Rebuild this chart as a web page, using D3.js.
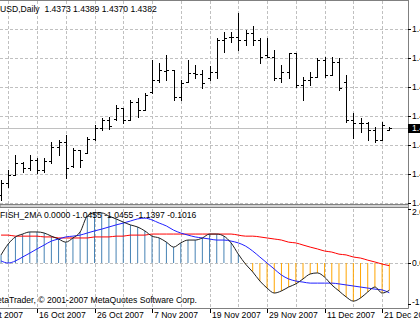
<!DOCTYPE html>
<html>
<head>
<meta charset="utf-8">
<script src="https://cdn.jsdelivr.net/npm/d3@7"></script>
<style>
  body { margin: 0; background: #fff; overflow: hidden; }
  svg { display: block; font-family: "Liberation Sans", Arial, sans-serif; }
</style>
</head>
<body>
<svg id="chart" width="420" height="323"></svg>
<script>
// EURUSD daily, 9 Oct 2007 .. 24 Dec 2007
const dates = [
  "2007-10-09","2007-10-10","2007-10-11","2007-10-12","2007-10-15","2007-10-16","2007-10-17","2007-10-18","2007-10-19","2007-10-22",
  "2007-10-23","2007-10-24","2007-10-25","2007-10-26","2007-10-29","2007-10-30","2007-10-31","2007-11-01","2007-11-02","2007-11-05",
  "2007-11-06","2007-11-07","2007-11-08","2007-11-09","2007-11-12","2007-11-13","2007-11-14","2007-11-15","2007-11-16","2007-11-19",
  "2007-11-20","2007-11-21","2007-11-22","2007-11-23","2007-11-26","2007-11-27","2007-11-28","2007-11-29","2007-11-30","2007-12-03",
  "2007-12-04","2007-12-05","2007-12-06","2007-12-07","2007-12-10","2007-12-11","2007-12-12","2007-12-13","2007-12-14","2007-12-17",
  "2007-12-18","2007-12-19","2007-12-20","2007-12-21","2007-12-24"
];

const opens = [
  1.4047,1.4107,1.4147,1.4207,1.4182,1.4222,1.4172,1.4217,1.4287,1.4312,
  1.4192,1.4272,1.4257,1.4327,1.4382,1.4422,1.4427,1.4482,1.4422,1.4512,
  1.4472,1.4562,1.4622,1.4667,1.4672,1.4537,1.4612,1.4657,1.4652,1.4632,
  1.4662,1.4822,1.4837,1.4837,1.4822,1.4857,1.4822,1.4747,1.4737,1.4632,
  1.4662,1.4757,1.4597,1.4622,1.4637,1.4722,1.4647,1.4712,1.4612,1.4422,
  1.4407,1.4407,1.4372,1.4322,1.4373
];
const highs = [
  1.4122,1.4172,1.4247,1.4212,1.4247,1.4232,1.4232,1.4312,1.4322,1.4347,
  1.4282,1.4272,1.4337,1.4397,1.4432,1.4437,1.4497,1.4482,1.4522,1.4532,
  1.4557,1.4722,1.4707,1.4747,1.4672,1.4622,1.4722,1.4697,1.4672,1.4692,
  1.4832,1.4862,1.4862,1.4957,1.4872,1.4892,1.4832,1.4832,1.4772,1.4697,
  1.4757,1.4757,1.4637,1.4662,1.4732,1.4737,1.4737,1.4732,1.4647,1.4457,
  1.4432,1.4412,1.4387,1.4412,1.4389
];
const lows = [
  1.4022,1.4087,1.4147,1.4162,1.4172,1.4157,1.4162,1.4207,1.4247,1.4132,
  1.4187,1.4187,1.4257,1.4322,1.4372,1.4377,1.4422,1.4407,1.4422,1.4437,
  1.4472,1.4557,1.4612,1.4622,1.4522,1.4522,1.4612,1.4632,1.4582,1.4622,
  1.4632,1.4762,1.4812,1.4772,1.4797,1.4797,1.4707,1.4737,1.4622,1.4612,
  1.4632,1.4587,1.4522,1.4597,1.4637,1.4637,1.4647,1.4572,1.4412,1.4332,
  1.4362,1.4322,1.4312,1.4322,1.4370
];
const closes = [
  1.4107,1.4147,1.4207,1.4182,1.4222,1.4172,1.4217,1.4287,1.4312,1.4182,
  1.4272,1.4222,1.4327,1.4382,1.4422,1.4392,1.4482,1.4422,1.4512,1.4472,
  1.4547,1.4622,1.4672,1.4672,1.4537,1.4607,1.4657,1.4652,1.4607,1.4662,
  1.4822,1.4832,1.4837,1.4822,1.4857,1.4822,1.4737,1.4737,1.4632,1.4662,
  1.4757,1.4597,1.4622,1.4637,1.4722,1.4647,1.4712,1.4582,1.4422,1.4407,
  1.4407,1.4372,1.4322,1.4397,1.4382
];

// FISH_2MA buffers: fisher (histogram + black line), MA1 (blue), MA2 (red)
const fisher = [
  0.31,0.73,1.00,1.11,1.19,1.19,1.15,1.03,0.92,0.80,
  0.96,1.19,1.80,1.92,1.92,1.80,1.69,1.57,1.46,1.38,
  1.23,1.03,0.96,0.80,0.61,0.77,0.88,0.88,0.96,1.11,
  1.11,1.03,0.77,0.34,-0.04,-0.34,-0.69,-0.96,-1.15,-1.07,
  -0.92,-0.80,-0.61,-0.42,-0.38,-0.54,-0.84,-1.07,-1.30,-1.46,
  -1.34,-1.11,-0.92,-1.15,-1.0455
];
const maBlue = [
  0.08,0.00,0.08,0.23,0.38,0.54,0.69,0.84,0.92,1.00,
  1.03,1.07,1.15,1.23,1.30,1.38,1.46,1.53,1.61,1.69,
  1.72,1.65,1.53,1.42,1.26,1.15,1.07,1.00,0.96,0.92,
  0.88,0.88,0.84,0.77,0.65,0.46,0.23,0.00,-0.23,-0.46,
  -0.61,-0.69,-0.73,-0.77,-0.77,-0.77,-0.77,-0.80,-0.84,-0.88,
  -0.92,-0.96,-1.00,-1.03,-1.1397
];
const maRed = [
  1.07,1.07,1.03,1.03,1.03,1.03,1.00,1.00,0.96,0.96,
  0.96,0.96,0.96,1.00,1.00,1.00,1.03,1.03,1.07,1.07,
  1.07,1.11,1.11,1.11,1.11,1.11,1.11,1.11,1.11,1.11,
  1.11,1.11,1.11,1.07,1.03,1.03,1.00,0.96,0.92,0.88,
  0.80,0.77,0.69,0.61,0.54,0.46,0.42,0.34,0.31,0.23,
  0.19,0.11,0.04,-0.04,-0.1016
];

const priceTicks = [1.4007, 1.4152, 1.4297, 1.4442, 1.4587, 1.4732, 1.4877];
const indTicks = [2.07, 0, -1.57];
const dateLabels = ["4 Oct 2007","16 Oct 2007","26 Oct 2007","7 Nov 2007","19 Nov 2007","29 Nov 2007","11 Dec 2007","21 Dec 2007"];
const LABEL_FIRST = -3, LABEL_STEP = 8, GRID_STEP = 4;

const title = "USD,Daily  1.4373 1.4389 1.4370 1.4382";
const indTitle = "FISH_2MA 0.0000 -1.0455 -1.0455 -1.1397 -0.1016";
const copyright = "MetaTrader, \u00A9 2001-2007 MetaQuotes Software Corp.";

const W = 420, H = 323;
const plotRight = 408;
const mainTop = 0, mainBottom = 204;
const indTop = 209, indBottom = 304, bottomBorder = 308;
const FS = 8.6;

const svg = d3.select("#chart");
const n = closes.length;

const x = d3.scaleLinear().domain([0, n - 1]).range([1.05, 389.3]);
const y = d3.scaleLinear().domain([1.4002, 1.5022]).range([mainBottom, mainTop]);
const yi = d3.scaleLinear().domain([-1.57, 2.07]).range([indBottom, indTop]);

const px = v => Math.round(v) + 0.5;
const gridColor = "#c0c0c0";

// vertical grid (both windows)
const gridIdx = d3.range(1, n, GRID_STEP);
const g = svg.append("g");
gridIdx.forEach(i => {
  g.append("line").attr("x1", px(x(i))).attr("x2", px(x(i)))
    .attr("y1", mainTop + 1).attr("y2", mainBottom)
    .attr("stroke", gridColor).attr("stroke-dasharray", "3,2");
  g.append("line").attr("x1", px(x(i))).attr("x2", px(x(i)))
    .attr("y1", indTop).attr("y2", bottomBorder)
    .attr("stroke", gridColor).attr("stroke-dasharray", "3,2");
});

// horizontal grid main
svg.append("g").selectAll("line").data(priceTicks).join("line")
  .attr("x1", 0).attr("x2", plotRight)
  .attr("y1", d => px(y(d))).attr("y2", d => px(y(d)))
  .attr("stroke", gridColor).attr("stroke-dasharray", "3,2");

// zero line in indicator
svg.append("line").attr("x1", 0).attr("x2", plotRight)
  .attr("y1", px(yi(0))).attr("y2", px(yi(0)))
  .attr("stroke", gridColor).attr("stroke-dasharray", "3,2");

// current price line
svg.append("line").attr("x1", 0).attr("x2", plotRight)
  .attr("y1", px(y(closes[n - 1]))).attr("y2", px(y(closes[n - 1])))
  .attr("stroke", "#c0c0c0");

// OHLC bars
svg.append("g").selectAll("path").data(d3.range(n)).join("path")
  .attr("d", i => {
    const xi = Math.round(x(i));
    const yo = Math.round(y(opens[i])) + 0.5;
    const yc = Math.round(y(closes[i])) + 0.5;
    return `M${xi + 0.5},${Math.round(y(highs[i]))}V${Math.round(y(lows[i])) + 1}` +
           `M${xi - 2},${yo}H${xi}M${xi + 1},${yc}H${xi + 3}`;
  })
  .attr("stroke", "#000").attr("fill", "none");

// histogram
svg.append("g").selectAll("line").data(d3.range(n)).join("line")
  .attr("x1", i => x(i)).attr("x2", i => x(i))
  .attr("y1", yi(0)).attr("y2", i => yi(fisher[i]))
  .attr("stroke", i => fisher[i] >= 0 ? "#4682b4" : "#ffa500")
  .attr("stroke-width", 1);

const lineGen = arr => d3.line().x((d, i) => x(i)).y(d => yi(d)).curve(d3.curveMonotoneX)(arr);
svg.append("path").attr("d", lineGen(maRed)).attr("fill", "none").attr("stroke", "#ff0000");
svg.append("path").attr("d", lineGen(maBlue)).attr("fill", "none").attr("stroke", "#2020ff");
svg.append("path").attr("d", lineGen(fisher)).attr("fill", "none").attr("stroke", "#202020");

// borders and separator
svg.append("line").attr("x1", 0).attr("x2", plotRight + 0.5).attr("y1", 0.5).attr("y2", 0.5).attr("stroke", "#808080");
svg.append("rect").attr("x", 0).attr("y", 204.5).attr("width", plotRight + 0.5).attr("height", 3)
  .attr("fill", "#d4d4d4").attr("stroke", "#808080");
svg.append("line").attr("x1", plotRight + 0.5).attr("x2", plotRight + 0.5).attr("y1", 0).attr("y2", bottomBorder + 0.5).attr("stroke", "#808080");
svg.append("line").attr("x1", 0).attr("x2", plotRight + 0.5).attr("y1", bottomBorder + 0.5).attr("y2", bottomBorder + 0.5).attr("stroke", "#808080");

// right price axis
const ra = svg.append("g").attr("font-size", FS).attr("fill", "#000");
priceTicks.forEach(p => {
  const yy = Math.round(y(p));
  ra.append("line").attr("x1", plotRight).attr("x2", plotRight + 3).attr("y1", yy + 0.5).attr("y2", yy + 0.5).attr("stroke", "#000");
  ra.append("text").attr("x", plotRight + 4).attr("y", yy + 3).text(p.toFixed(4));
});
// current price box
const cy = Math.round(y(closes[n - 1]));
svg.append("rect").attr("x", plotRight).attr("y", cy - 4).attr("width", 20).attr("height", 9).attr("fill", "#000");
svg.append("text").attr("x", plotRight + 4).attr("y", cy + 3).attr("font-size", FS).attr("fill", "#fff")
  .text(closes[n - 1].toFixed(4));

// indicator axis
indTicks.forEach(v => {
  const yy = Math.round(yi(v));
  ra.append("line").attr("x1", plotRight).attr("x2", plotRight + 3).attr("y1", yy + 0.5).attr("y2", yy + 0.5).attr("stroke", "#000");
  ra.append("text").attr("x", plotRight + 4).attr("y", Math.min(Math.max(yy + 3, 215), 305)).text(v.toFixed(4));
});

// time axis
dateLabels.forEach((lab, k) => {
  const xi = Math.round(x(LABEL_FIRST + k * LABEL_STEP));
  svg.append("line").attr("x1", xi + 0.5).attr("x2", xi + 0.5).attr("y1", bottomBorder + 1).attr("y2", bottomBorder + 5).attr("stroke", "#000");
  svg.append("text").attr("x", xi + 2).attr("y", 318).attr("font-size", FS).attr("fill", "#000").text(lab);
});

// texts
svg.append("text").attr("x", 0).attr("y", 12).attr("font-size", FS).attr("fill", "#000").attr("xml:space", "preserve").text(title);
svg.append("text").attr("x", 0).attr("y", 218).attr("font-size", FS).attr("fill", "#000").text(indTitle);
svg.append("text").attr("x", 197).attr("y", 303).attr("font-size", FS).attr("fill", "#000").attr("text-anchor", "end").text(copyright);
</script>
</body>
</html>
